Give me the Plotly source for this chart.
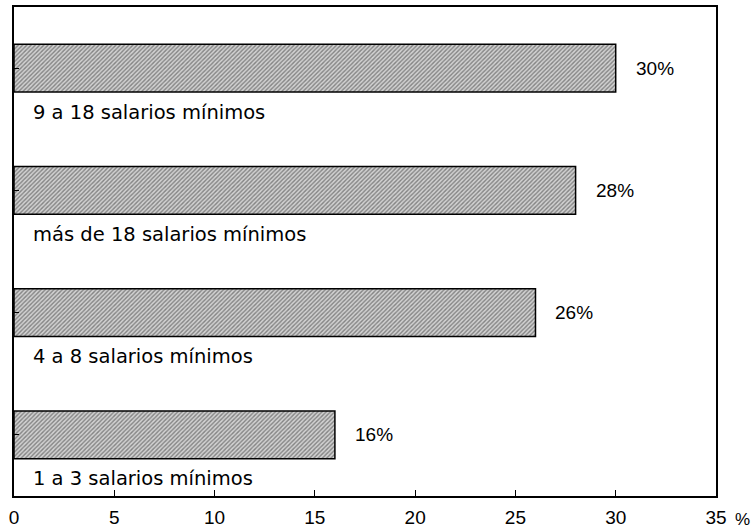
import plotly.graph_objects as go

categories = ["1 a 3 salarios mínimos", "4 a 8 salarios mínimos",
              "más de 18 salarios mínimos", "9 a 18 salarios mínimos"]
values = [16, 26, 28, 30]
value_labels = ["16%", "26%", "28%", "30%"]
tick_vals = [0, 5, 10, 15, 20, 25, 30, 35]

fig = go.Figure()
fig.add_trace(go.Bar(
    y=categories, x=values, orientation="h", width=0.39,
    marker=dict(
        color="#c0c0c0",
        line=dict(color="#000000", width=1.5),
        pattern=dict(shape="/", fgcolor="#333333", bgcolor="#d2d2d2",
                     size=3, solidity=0.45),
    ),
    showlegend=False, hoverinfo="skip",
))

ann = []
for c, v, t in zip(categories, values, value_labels):
    ann.append(dict(x=v, y=c, xref="x", yref="y", text=t, showarrow=False,
                    xanchor="left", xshift=18,
                    font=dict(family="Liberation Sans, Arial", size=19, color="#000000")))
    ann.append(dict(x=0, y=c, xref="x", yref="y", text=c, showarrow=False,
                    xanchor="left", yanchor="middle", xshift=17, yshift=-44,
                    font=dict(family="DejaVu Sans", size=19.5, color="#000000")))
ann.append(dict(x=1.0, y=0, xref="paper", yref="paper", text="%", showarrow=False,
                xanchor="left", yanchor="top", xshift=17, yshift=-12,
                font=dict(family="Liberation Sans, Arial", size=17, color="#000000")))

fig.update_layout(
    width=756, height=532,
    margin=dict(l=14, r=40, t=7, b=36, autoexpand=False),
    paper_bgcolor="white", plot_bgcolor="white",
    annotations=ann,
    xaxis=dict(range=[0, 35], tickvals=tick_vals, ticks="inside", ticklen=6,
               tickcolor="#000000", tickwidth=1.2, showgrid=False, zeroline=False,
               showline=True, linecolor="#000000", linewidth=1.5, mirror=True,
               ticklabelstandoff=3, automargin=False,
               tickfont=dict(family="Liberation Sans, Arial", size=19, color="#000000")),
    yaxis=dict(range=[-0.5, 3.5], ticks="inside", ticklen=5, tickcolor="#000000",
               tickwidth=1.2, showticklabels=False, showgrid=False, zeroline=False,
               showline=True, linecolor="#000000", linewidth=1.5, mirror=True,
               automargin=False),
)

fig.write_html("out.html", config={"displayModeBar": False},
               post_script="document.body.style.margin='0px';document.body.style.overflow='hidden';")
